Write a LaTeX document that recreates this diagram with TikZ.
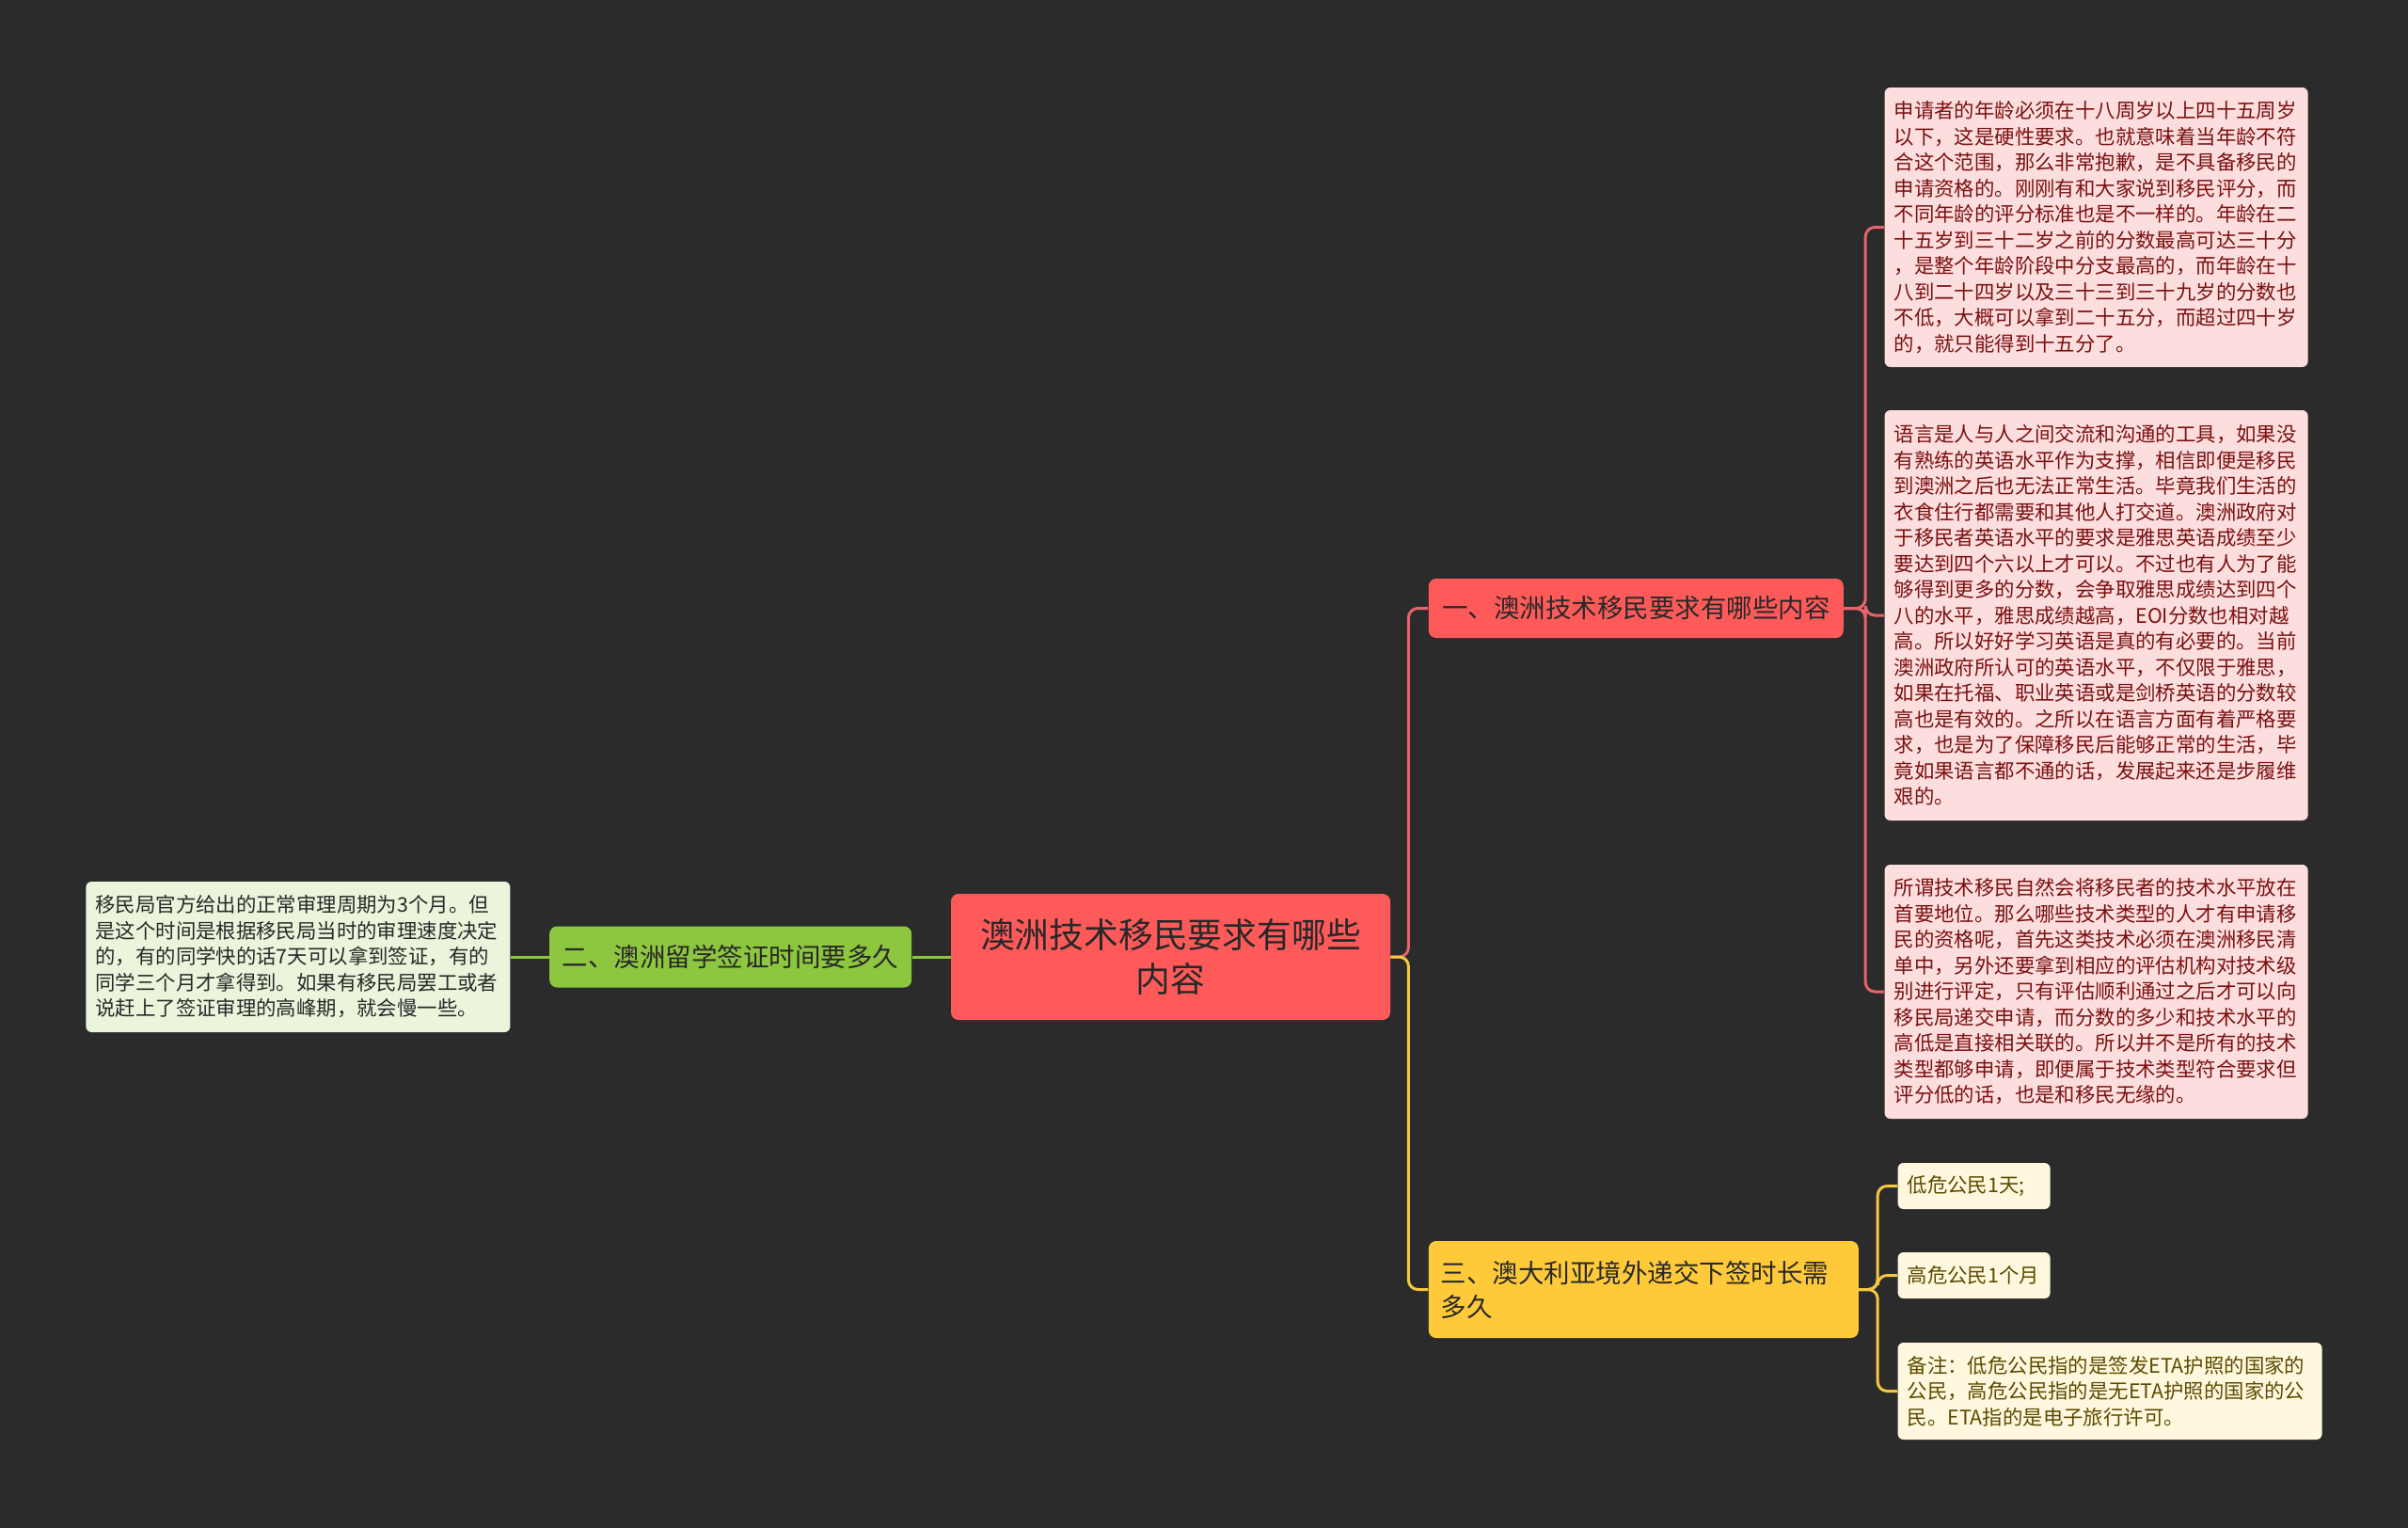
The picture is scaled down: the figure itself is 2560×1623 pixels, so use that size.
\documentclass[tikz,border=0pt]{standalone}
\usepackage{fontspec}
\setmainfont{Noto Sans CJK SC}
\usetikzlibrary{positioning}
\definecolor{bgdark}{RGB}{43,43,43}
\definecolor{rootred}{RGB}{255,90,90}
\definecolor{linkred}{RGB}{232,99,107}
\definecolor{leafpink}{RGB}{253,222,222}
\definecolor{textred}{RGB}{122,16,16}
\definecolor{topicgreen}{RGB}{141,198,63}
\definecolor{leafgreen}{RGB}{235,245,220}
\definecolor{topicyellow}{RGB}{255,202,58}
\definecolor{linkyellow}{RGB}{245,200,66}
\definecolor{leafcream}{RGB}{255,248,222}
\definecolor{textbrown}{RGB}{92,74,0}
\definecolor{textdark}{RGB}{40,40,40}

\begin{document}
\begin{tikzpicture}[
    x=0.5pt, y=-0.5pt,
    root/.style={rectangle, fill=rootred, rounded corners=4pt, text=textdark, align=center, inner sep=0pt, minimum width=233.5pt, minimum height=67pt, font=\fontsize{18.4}{23.5}\selectfont},
    topic/.style={rectangle, rounded corners=4pt, text=textdark, inner xsep=6.5pt, inner ysep=0pt, minimum height=31.5pt, font=\fontsize{13.75}{18}\selectfont},
    leaf/.style={rectangle, rounded corners=3pt, inner xsep=5pt, inner ysep=0pt, align=left, font=\fontsize{10.7}{13.75}\selectfont},
    redleaf/.style={leaf, fill=leafpink, text=textred, text width=215pt},
    greenleaf/.style={leaf, fill=leafgreen, text=textdark, text width=215.5pt},
    yellowleaf/.style={leaf, fill=leafcream, text=textbrown},
    link/.style={line width=1.5pt, rounded corners=5pt}
]
    \useasboundingbox (0,0) rectangle (2560,1623);
    \fill[bgdark] (-10,-10) rectangle (2570,1633);

    \node[root] (ctr) at (1244.5,1017) {澳洲技术移民要求有哪些\\内容};

    \node[topic, fill=rootred, minimum width=220.5pt] (b1) [right=20pt of ctr, yshift=185.25pt] {一、澳洲技术移民要求有哪些内容};
    \node[topic, fill=topicgreen, minimum width=192.5pt, minimum height=32.5pt] (b2) [left=20.5pt of ctr] {二、澳洲留学签证时间要多久};
    \node[topic, fill=topicyellow, align=left, text width=215.5pt, minimum height=51.5pt] (b3) [right=20pt of ctr, yshift=-176.75pt] {三、澳大利亚境外递交下签时长需\\多久};

    \node[redleaf, minimum height=148.5pt] (l1a) [right=21.5pt of b1, yshift=202.5pt] {申请者的年龄必须在十八周岁以上四十五周岁\\以下，这是硬性要求。也就意味着当年龄不符\\合这个范围，那么非常抱歉，是不具备移民的\\申请资格的。刚刚有和大家说到移民评分，而\\不同年龄的评分标准也是不一样的。年龄在二\\十五岁到三十二岁之前的分数最高可达三十分\\，是整个年龄阶段中分支最高的，而年龄在十\\八到二十四岁以及三十三到三十九岁的分数也\\不低，大概可以拿到二十五分，而超过四十岁\\的，就只能得到十五分了。};
    \node[redleaf, minimum height=218pt] (l1b) [right=21.5pt of b1, yshift=-3.75pt] {语言是人与人之间交流和沟通的工具，如果没\\有熟练的英语水平作为支撑，相信即便是移民\\到澳洲之后也无法正常生活。毕竟我们生活的\\衣食住行都需要和其他人打交道。澳洲政府对\\于移民者英语水平的要求是雅思英语成绩至少\\要达到四个六以上才可以。不过也有人为了能\\够得到更多的分数，会争取雅思成绩达到四个\\八的水平，雅思成绩越高，EOI分数也相对越\\高。所以好好学习英语是真的有必要的。当前\\澳洲政府所认可的英语水平，不仅限于雅思，\\如果在托福、职业英语或是剑桥英语的分数较\\高也是有效的。之所以在语言方面有着严格要\\求，也是为了保障移民后能够正常的生活，毕\\竟如果语言都不通的话，发展起来还是步履维\\艰的。};
    \node[redleaf, minimum height=135pt] (l1c) [right=21.5pt of b1, yshift=-203.75pt] {所谓技术移民自然会将移民者的技术水平放在\\首要地位。那么哪些技术类型的人才有申请移\\民的资格呢，首先这类技术必须在澳洲移民清\\单中，另外还要拿到相应的评估机构对技术级\\别进行评定，只有评估顺利通过之后才可以向\\移民局递交申请，而分数的多少和技术水平的\\高低是直接相关联的。所以并不是所有的技术\\类型都够申请，即便属于技术类型符合要求但\\评分低的话，也是和移民无缘的。};

    \node[greenleaf, minimum height=80pt] (l2) [left=20.5pt of b2] {移民局官方给出的正常审理周期为3个月。但\\是这个时间是根据移民局当时的审理速度决定\\的，有的同学快的话7天可以拿到签证，有的\\同学三个月才拿得到。如果有移民局罢工或者\\说赶上了签证审理的高峰期，就会慢一些。};

    \node[yellowleaf, text width=71pt, minimum height=24.5pt] (l3a) [right=20.5pt of b3, yshift=55pt] {低危公民1天;};
    \node[yellowleaf, text width=71pt, minimum height=24.5pt] (l3b) [right=20.5pt of b3, yshift=7.5pt] {高危公民1个月};
    \node[yellowleaf, text width=215.5pt, minimum height=51.5pt] (l3c) [right=20.5pt of b3, yshift=-54pt] {备注：低危公民指的是签发ETA护照的国家的\\公民，高危公民指的是无ETA护照的国家的公\\民。ETA指的是电子旅行许可。};

    % connectors
    \draw[link, linkred] (ctr.east) -- ++(19,0) |- (b1.west);
    \draw[link, linkyellow] (ctr.east) -- ++(19,0) |- (b3.west);
    \draw[link, topicgreen] (ctr.west) -- (b2.east);
    \draw[link, topicgreen] (b2.west) -- (l2.east);
    \draw[link, linkred] (b1.east) -- ++(23,0) |- (l1a.west);
    \draw[link, linkred] (b1.east) -- ++(23,0) |- (l1b.west);
    \draw[link, linkred] (b1.east) -- ++(23,0) |- (l1c.west);
    \draw[link, linkyellow] (b3.east) -- ++(20,0) |- (l3a.west);
    \draw[link, linkyellow] (b3.east) -- ++(20,0) |- (l3b.west);
    \draw[link, linkyellow] (b3.east) -- ++(20,0) |- (l3c.west);
\end{tikzpicture}
\end{document}
